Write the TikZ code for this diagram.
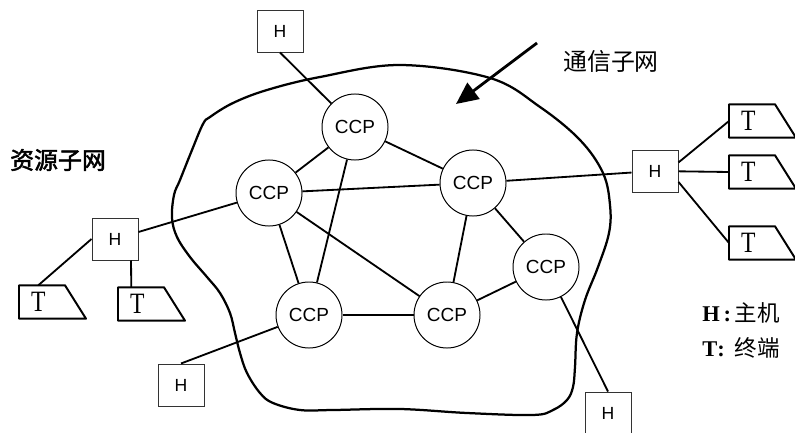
\documentclass[tikz,border=0pt]{standalone}
\usepackage{fontspec}
\setmainfont{Liberation Serif}
\setsansfont{Liberation Sans}
\newfontfamily\cjk{Noto Sans CJK SC}
\newfontfamily\cjkbold[FakeBold=2]{Noto Sans CJK SC}
\usepackage{tikz}
\usetikzlibrary{calc,arrows.meta,positioning}

\begin{document}
\begin{tikzpicture}[x=0.025cm,y=-0.025cm]
    \tikzstyle{ccp}=[circle,draw,line width=0.7pt,minimum size=1.65cm,inner sep=0pt,font=\sffamily\fontsize{13.5}{15}\selectfont]
    \tikzstyle{host}=[rectangle,draw=black!80,line width=0.7pt,minimum width=1.15cm,minimum height=1.05cm,inner sep=0pt,font=\sffamily\fontsize{12.5}{14}\selectfont]
    \tikzstyle{term}=[rectangle,draw=none,anchor=west,minimum width=0.95cm,minimum height=0.82cm,inner sep=0pt,font=\fontsize{21}{22}\selectfont]
    \tikzstyle{link}=[line width=1.3pt]

    \useasboundingbox (0,0) rectangle (795,433);

    % communication subnet boundary
    \draw[line width=1.6pt] plot[smooth cycle, tension=0.6] coordinates {
      (210,117) (233,103) (267,90) (320,77) (400,65) (490,78) (540,107)
      (580,140) (603,173) (610,205) (609,233) (598,267) (585,300) (577,333)
      (575,367) (573,387) (567,400) (553,410) (533,415) (467,413) (400,409)
      (333,410) (300,410) (273,403) (260,393) (247,373) (240,353) (235,333)
      (230,313) (220,293) (207,277) (190,257) (177,237) (172,218) (174,195)
      (180,180) (192,150) (203,124)};

    \node[ccp] (ccpa) at (355,127) {CCP};
    \node[ccp] (ccpb) at (269,193) {CCP};
    \node[ccp] (ccpc) at (473,183) {CCP};
    \node[ccp] (ccpd) at (309,315) {CCP};
    \node[ccp] (ccpe) at (447,315) {CCP};
    \node[ccp] (ccpf) at (546,267) {CCP};

    \node[host] (htop) at (280,31) {H};
    \node[host] (hleft) at (115,239) {H};
    \node[host] (hright) at (655,171) {H};
    \node[host] (hbl) at (181,385) {H};
    \node[host] (hbr) at (608,413) {H};

    \node[term] (tla) at (19,302) {\scalebox{0.8}[1]{T}};
    \node[term] (tlb) at (118,304) {\scalebox{0.8}[1]{T}};
    \node[term] (tra) at (729,121) {\scalebox{0.8}[1]{T}};
    \node[term] (trb) at (729,172) {\scalebox{0.8}[1]{T}};
    \node[term] (trc) at (729,243) {\scalebox{0.8}[1]{T}};

    % terminals
    \foreach \t in {tla,tlb,tra,trb,trc}
      \draw[line width=1.4pt,line join=round] (\t.south west) -- (\t.north west)
        -- ($(\t.north west)+(46,0)$) -- ($(\t.south west)+(67,0)$) -- cycle;

    \path[link]
    (htop.south) edge (ccpa)
    (ccpa) edge (ccpb)
    (ccpa) edge (ccpc)
    (ccpa) edge (ccpd)
    (ccpb) edge (ccpc)
    (ccpb) edge (hleft)
    (ccpb) edge (ccpd)
    (ccpb) edge (ccpe)
    (ccpc) edge (hright)
    (ccpc) edge (ccpe)
    (ccpc) edge (ccpf)
    (ccpd) edge (ccpe)
    (ccpd) edge (hbl.north)
    (ccpe) edge (ccpf)
    (ccpf) edge (hbr.north)
    (hleft.west) edge (tla.north)
    ([xshift=0.4cm]hleft.south) edge ([xshift=-0.15cm]tlb.north)
    (hright.20) edge (tra.west)
    (hright) edge (trb.west)
    (hright.-25) edge (trc.west);

    \coordinate (arrs) at (537,43);
    \coordinate (arre) at (456,104);
    \draw[line width=2pt,-{Triangle[length=0.55cm,width=0.5cm]}] (arrs) -- (arre);

    \node[font=\cjk\fontsize{17}{19}\selectfont] (comm) at (611,61) {通信子网};
    \node[font=\cjkbold\fontsize{17}{19}\selectfont] (res) at (58,160) {资源子网};

    \node[anchor=west,inner sep=0pt,font=\fontsize{16}{18}\selectfont] (keyh) at (702,313) {\textbf{H}\,\textbf{:}\,{\cjk 主机}};
    \node[anchor=west,inner sep=0pt,font=\fontsize{16}{18}\selectfont] (keyt) at (702,348) {\textbf{T}\textbf{:}\;\,{\cjk 终端}};
\end{tikzpicture}
\end{document}
